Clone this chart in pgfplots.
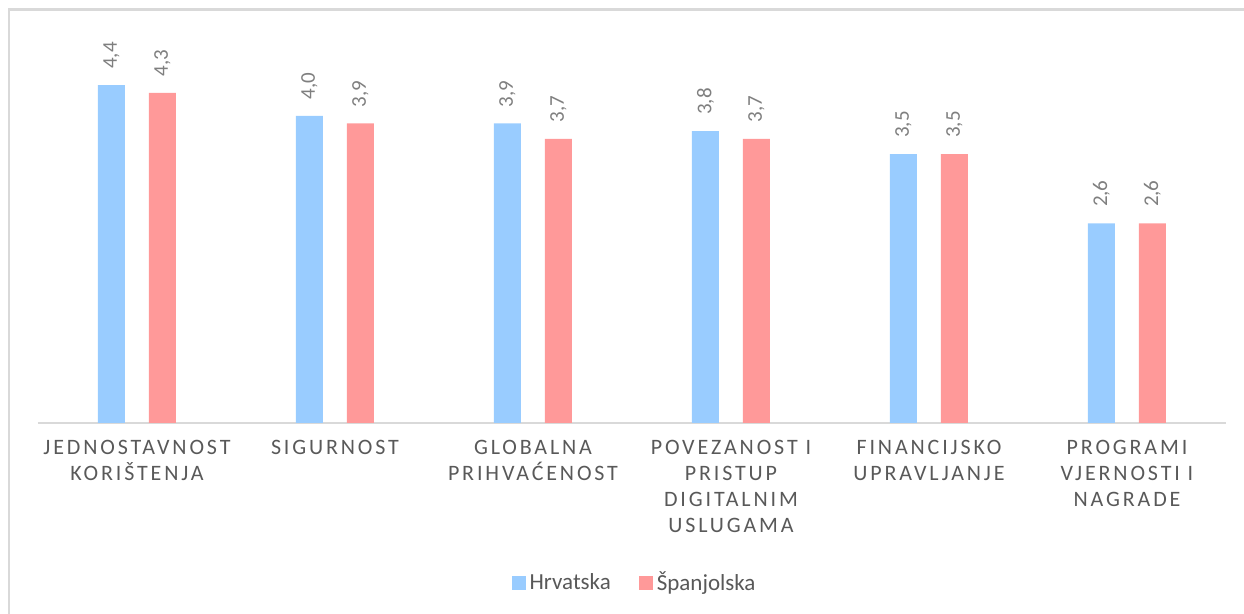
\documentclass[border=0pt]{standalone}
\usepackage{fontspec}
\setmainfont{Carlito}
\newfontfamily\spaced[LetterSpace=13]{Carlito}
\usepackage{xcolor}
\definecolor{BarBlue}{HTML}{99CCFF}
\definecolor{BarRed}{HTML}{FF9999}
\definecolor{LabGray}{HTML}{595959}
\definecolor{ValGray}{HTML}{7F7F7F}
\definecolor{Frame}{HTML}{D9D9D9}
\usepackage{pgfplots}
\pgfplotsset{compat=1.18}

\begin{document}
\begin{tikzpicture}
% 1 px of the reference = 0.5pt; axis box from x=38..1226 px, baseline at y=423 px
\useasboundingbox (-19pt,-95.5pt) rectangle (603pt,211.5pt);
\draw[Frame,line width=1.2pt] (-14.5pt,-95.5pt) -- (-14.5pt,206.7pt) -- (603pt,206.7pt);
\begin{axis}[
  at={(0,0)}, anchor=south west,
  scale only axis, width=594pt, height=192pt,
  ybar=12pt, bar width=13.5pt,
  xmin=-0.5, xmax=5.5, ymin=0, ymax=5,
  axis y line=none, axis x line*=bottom,
  x axis line style={Frame,line width=0.8pt,-},
  xtick=data, major tick length=0pt,
  xticklabels={JEDNOSTAVNOST\\KORIŠTENJA, SIGURNOST, GLOBALNA\\PRIHVAĆENOST,
    POVEZANOST I\\PRISTUP\\DIGITALNIM\\USLUGAMA, FINANCIJSKO\\UPRAVLJANJE,
    PROGRAMI\\VJERNOSTI I\\NAGRADE},
  xticklabel style={font=\spaced\fontsize{11}{13}\selectfont, text=LabGray,
    align=center, anchor=north, yshift=-5pt},
  /pgf/number format/assume math mode=true,
  nodes near coords={\pgfmathprintnumber[fixed,fixed zerofill,precision=1,use comma]{\pgfplotspointmeta}},
  nodes near coords style={rotate=90, anchor=west, inner sep=0pt, xshift=0pt,
    font=\fontsize{10.5}{12}\selectfont, text=ValGray},
  every node near coord/.append style={inner xsep=8pt},
  legend columns=2,
  legend style={draw=none, at={(axis description cs:0.503,-0.4167)}, anchor=center,
    font=\fontsize{11.5}{13}\selectfont, text=LabGray,
    /tikz/every even column/.append style={column sep=12pt}},
  legend image code/.code={\fill[#1] (0pt,-3.5pt) rectangle (7pt,3.5pt);},
]
\addplot[fill=BarBlue, draw=none] coordinates {
  (0,4.4) (1,4.0) (2,3.9) (3,3.8) (4,3.5) (5,2.6)
};
\addplot[fill=BarRed, draw=none] coordinates {
  (0,4.3) (1,3.9) (2,3.7) (3,3.7) (4,3.5) (5,2.6)
};
\legend{Hrvatska, Španjolska}
\end{axis}
\end{tikzpicture}
\end{document}
